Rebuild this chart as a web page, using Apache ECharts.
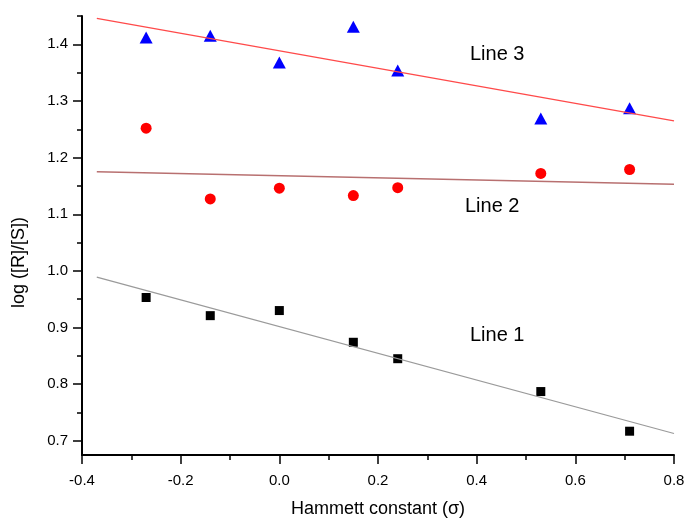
<!DOCTYPE html>
<html>
<head>
<meta charset="utf-8">
<script src="https://cdn.jsdelivr.net/npm/echarts@6/dist/echarts.min.js"></script>
<style>
  html, body { margin: 0; padding: 0; background: #fff; }
  #chart { width: 686px; height: 518px; }
</style>
</head>
<body>
<div id="chart"></div>
<script>
// Hammett constants (x) and measured log([R]/[S])
const sigma = [-0.27, -0.14, 0.0, 0.15, 0.24, 0.53, 0.71];
const line1Pts = [0.953, 0.921, 0.930, 0.874, 0.845, 0.787, 0.717];
const line2Pts = [1.252, 1.127, 1.146, 1.133, 1.147, 1.172, 1.179];
const line3Pts = [1.412, 1.415, 1.368, 1.431, 1.354, 1.269, 1.287];

// fitted lines, read at both ends
const fitX = [-0.37, 0.8];
const fit1 = [0.989, 0.713];
const fit2 = [1.175, 1.153];
const fit3 = [1.446, 1.265];

// y axis tick values
const yMajor = [0.7, 0.8, 0.9, 1.0, 1.1, 1.2, 1.3, 1.4];
const yMinor = [0.75, 0.85, 0.95, 1.05, 1.15, 1.25, 1.35, 1.45];

const FONT = 'Liberation Sans, Arial, sans-serif';

function pairs(xs, ys) {
  return xs.map((x, i) => [x, ys[i]]);
}

const chart = echarts.init(document.getElementById('chart'));

const option = {
  animation: false,
  backgroundColor: '#fff',
  grid: { left: 82, right: 12, top: 16, bottom: 63, containLabel: false, outerBoundsMode: 'none' },
  xAxis: {
    type: 'value',
    min: -0.4,
    max: 0.8,
    interval: 0.2,
    name: 'Hammett constant (σ)',
    nameLocation: 'middle',
    nameGap: 45,
    nameTextStyle: { fontFamily: FONT, fontSize: 18, color: '#000' },
    axisLine: { onZero: false, lineStyle: { color: '#000', width: 2 } },
    axisTick: { show: true, inside: false, length: 9, lineStyle: { color: '#000', width: 1.5 } },
    minorTick: { show: true, splitNumber: 2, length: 5, lineStyle: { color: '#000', width: 1.5 } },
    axisLabel: {
      margin: 18,
      fontFamily: FONT, fontSize: 15, color: '#000',
      formatter: v => v.toFixed(1)
    },
    splitLine: { show: false }
  },
  yAxis: [
    {
      type: 'value',
      min: 0.675,
      max: 1.45,
      name: 'log ([R]/[S])',
      nameLocation: 'middle',
      nameGap: 54,
      nameTextStyle: { fontFamily: FONT, fontSize: 18, color: '#000', padding: [0, 54, 0, 0] },
      axisLine: { show: true, onZero: false, lineStyle: { color: '#000', width: 2 } },
      axisTick: { show: true, length: 9, customValues: yMajor, lineStyle: { color: '#000', width: 1.5 } },
      axisLabel: {
        margin: 14,
        customValues: yMajor,
        fontFamily: FONT, fontSize: 15, color: '#000',
        formatter: v => v.toFixed(1)
      },
      splitLine: { show: false }
    },
    {
      // minor ticks only
      type: 'value',
      position: 'left',
      min: 0.675,
      max: 1.45,
      axisLine: { show: false, onZero: false },
      axisTick: { show: true, length: 5, customValues: yMinor, lineStyle: { color: '#000', width: 1.5 } },
      axisLabel: { show: false },
      splitLine: { show: false }
    }
  ],
  series: [
    {
      type: 'line',
      data: pairs(fitX, fit1),
      symbol: 'none',
      lineStyle: { color: '#9a9a9a', width: 1.2 },
      silent: true
    },
    {
      type: 'line',
      data: pairs(fitX, fit2),
      symbol: 'none',
      lineStyle: { color: '#b87070', width: 1.6 },
      silent: true
    },
    {
      type: 'line',
      data: pairs(fitX, fit3),
      symbol: 'none',
      lineStyle: { color: '#ff4a4a', width: 1.3 },
      silent: true
    },
    {
      type: 'scatter',
      data: pairs(sigma, line1Pts),
      symbol: 'rect',
      symbolSize: 9,
      itemStyle: { color: '#000', opacity: 1 }
    },
    {
      type: 'scatter',
      data: pairs(sigma, line2Pts),
      symbol: 'circle',
      symbolSize: 11,
      itemStyle: { color: '#ff0000', opacity: 1 }
    },
    {
      type: 'scatter',
      data: pairs(sigma, line3Pts),
      symbol: 'triangle',
      symbolSize: [13, 12],
      itemStyle: { color: '#0000ff', opacity: 1 }
    }
  ],
  graphic: [
    { type: 'text', left: 470, top: 44, style: { text: 'Line 3', font: '20px ' + FONT, fill: '#000' } },
    { type: 'text', left: 465, top: 196, style: { text: 'Line 2', font: '20px ' + FONT, fill: '#000' } },
    { type: 'text', left: 470, top: 325, style: { text: 'Line 1', font: '20px ' + FONT, fill: '#000' } }
  ]
};

chart.setOption(option);
</script>
</body>
</html>
